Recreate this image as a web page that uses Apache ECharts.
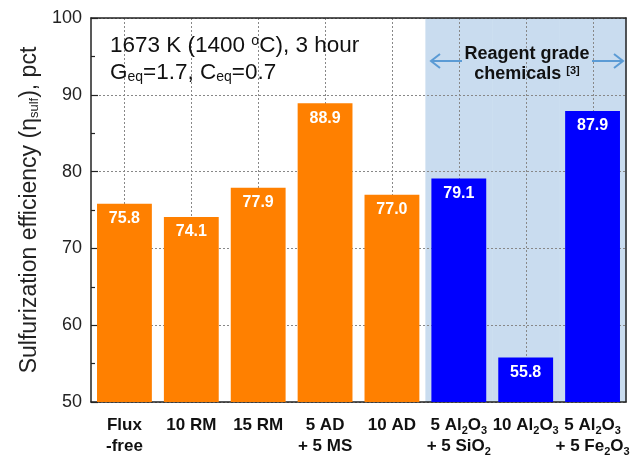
<!DOCTYPE html>
<html>
<head>
<meta charset="utf-8">
<script src="https://cdn.jsdelivr.net/npm/echarts@6/dist/echarts.min.js"></script>
<style>
html,body{margin:0;padding:0;background:#fff;}
#chart{width:639px;height:457px;}
</style>
</head>
<body>
<div id="chart"></div>
<script>
var categories = ['Flux\n-free', '10 RM', '15 RM', '5 AD\n+ 5 MS', '10 AD', '5 Al2O3\n+ 5 SiO2', '10 Al2O3', '5 Al2O3\n+ 5 Fe2O3'];
var efficiency = [75.8, 74.1, 77.9, 88.9, 77.0, 79.1, 55.8, 87.9];
var groups = ['flux', 'flux', 'flux', 'flux', 'flux', 'reagent', 'reagent', 'reagent'];
var yTicks = [50, 60, 70, 80, 90, 100];

var colorMap = { flux: '#ff8000', reagent: '#0000ff' };
var FONT = 'Liberation Sans, Arial, sans-serif';
var Y_MIN = yTicks[0], Y_MAX = yTicks[yTicks.length - 1];

var chart = echarts.init(document.getElementById('chart'), null, { renderer: 'canvas' });

var barData = efficiency.map(function (v, i) {
  return { value: v, itemStyle: { color: colorMap[groups[i]] } };
});
var reagentIdx = [];
groups.forEach(function (g, i) { if (g === 'reagent') reagentIdx.push([i, Y_MAX]); });
var allIdx = categories.map(function (c, i) { return [i, Y_MAX]; });

var option = {
  animation: false,
  backgroundColor: '#ffffff',
  grid: { left: 91, right: 13, top: 18, bottom: 46, containLabel: false },
  xAxis: [
    {
      type: 'category',
      data: categories,
      position: 'bottom',
      z: 1,
      axisLine: { show: true, lineStyle: { color: '#222', width: 1.5 } },
      axisTick: { show: false },
      splitLine: { show: false },
      axisLabel: {
        interval: 0,
        margin: 13,
        color: '#111',
        fontFamily: FONT,
        fontSize: 17,
        fontWeight: 'bold',
        lineHeight: 21,
        formatter: function (v) {
          return v.split('\n').map(function (line) {
            return '{m|' + line.replace(/([A-Za-z])(\d)/g, '$1}{s|$2}{m|') + '}';
          }).join('\n');
        },
        rich: {
          m: { fontFamily: FONT, fontSize: 17, fontWeight: 'bold', color: '#111', lineHeight: 21 },
          s: { fontFamily: FONT, fontSize: 11, fontWeight: 'bold', color: '#111', lineHeight: 11, verticalAlign: 'bottom' }
        }
      }
    },
    {
      type: 'category',
      data: categories,
      position: 'top',
      z: 1,
      axisLine: { show: true, onZero: false, lineStyle: { color: '#222', width: 1.5 } },
      axisTick: { show: false },
      axisLabel: { show: false },
      splitLine: { show: false }
    }
  ],
  yAxis: [
    {
      type: 'value',
      min: Y_MIN,
      max: Y_MAX,
      interval: 10,
      position: 'left',
      z: 1,
      name: 'Sulfurization efficiency (η{s|sulf}), pct',
      nameLocation: 'middle',
      nameGap: 50,
      nameRotate: 90,
      nameTextStyle: {
        fontFamily: FONT,
        fontSize: 23,
        color: '#222',
        rich: {
          s: { fontFamily: FONT, fontSize: 13, color: '#222', verticalAlign: 'bottom', lineHeight: 13 }
        }
      },
      axisLine: { show: true, onZero: false, lineStyle: { color: '#222', width: 1.5 } },
      axisTick: { show: true, inside: true, length: 7, lineStyle: { color: '#222', width: 1.2 } },
      minorTick: { show: true, splitNumber: 2, length: 4, lineStyle: { color: '#222', width: 1.2 } },
      axisLabel: { fontFamily: FONT, fontSize: 18, color: '#222', margin: 9 },
      splitLine: { show: true, lineStyle: { color: '#888888', type: [2, 2], width: 1 } }
    },
    {
      type: 'value',
      min: Y_MIN,
      max: Y_MAX,
      position: 'right',
      z: 1,
      axisLine: { show: true, onZero: false, lineStyle: { color: '#222', width: 1.5 } },
      axisTick: { show: false },
      axisLabel: { show: false },
      splitLine: { show: false }
    }
  ],
  series: [
    {
      name: 'shade',
      type: 'custom',
      xAxisIndex: 0,
      yAxisIndex: 0,
      z: 0,
      silent: true,
      data: reagentIdx,
      encode: { x: 0, y: 1 },
      renderItem: function (params, api) {
        var idx = api.value(0);
        var top = api.coord([idx, Y_MAX]);
        var bottom = api.coord([idx, Y_MIN]);
        var w = api.size([1, 0])[0];
        return {
          type: 'rect',
          shape: { x: top[0] - w / 2, y: top[1], width: w + 0.5, height: bottom[1] - top[1] },
          style: { fill: '#c9dcef' }
        };
      }
    },
    {
      name: 'center lines',
      type: 'custom',
      xAxisIndex: 0,
      yAxisIndex: 0,
      z: 1,
      silent: true,
      data: allIdx,
      encode: { x: 0, y: 1 },
      renderItem: function (params, api) {
        var idx = api.value(0);
        var top = api.coord([idx, Y_MAX]);
        var bottom = api.coord([idx, Y_MIN]);
        var x = Math.round(top[0]) + 0.5;
        return {
          type: 'line',
          shape: { x1: x, y1: top[1], x2: x, y2: bottom[1] },
          style: { stroke: '#888888', lineWidth: 1, lineDash: [2, 2] }
        };
      }
    },
    {
      name: 'efficiency',
      type: 'bar',
      xAxisIndex: 0,
      yAxisIndex: 0,
      z: 2,
      barCategoryGap: '18%',
      data: barData,
      label: {
        show: true,
        position: 'insideTop',
        distance: 7,
        color: '#ffffff',
        fontFamily: FONT,
        fontSize: 16,
        fontWeight: 'bold',
        formatter: function (p) { return p.value.toFixed(1); }
      }
    }
  ],
  graphic: [
    {
      type: 'text', left: 110, top: 34, z: 10,
      style: {
        text: '1673 K (1400 {u|o}C), 3 hour',
        fontFamily: FONT, fontSize: 22.5, fill: '#111',
        rich: { u: { fontFamily: FONT, fontSize: 14, fill: '#111', verticalAlign: 'top', lineHeight: 14 } }
      }
    },
    {
      type: 'text', left: 110, top: 61, z: 10,
      style: {
        text: 'G{s|eq}=1.7, C{s|eq}=0.7',
        fontFamily: FONT, fontSize: 22.5, fill: '#111',
        rich: { s: { fontFamily: FONT, fontSize: 14, fill: '#111', verticalAlign: 'bottom', lineHeight: 14 } }
      }
    },
    {
      type: 'text', x: 527, y: 54, z: 10,
      style: {
        text: 'Reagent grade',
        align: 'center', verticalAlign: 'middle',
        fontFamily: FONT, fontSize: 18, fontWeight: 'bold', fill: '#111'
      }
    },
    {
      type: 'text', x: 527, y: 74, z: 10,
      style: {
        text: 'chemicals {u|[3]}',
        align: 'center', verticalAlign: 'middle',
        fontFamily: FONT, fontSize: 18, fontWeight: 'bold', fill: '#111',
        rich: { u: { fontFamily: FONT, fontSize: 11, fontWeight: 'bold', fill: '#111', verticalAlign: 'top', lineHeight: 11 } }
      }
    },
    {
      type: 'polyline', z: 10,
      shape: { points: [[462, 61], [431, 61]] },
      style: { stroke: '#5b9bd5', lineWidth: 2, fill: null }
    },
    {
      type: 'polyline', z: 10,
      shape: { points: [[440, 54], [431, 61], [440, 68]] },
      style: { stroke: '#5b9bd5', lineWidth: 2, fill: null }
    },
    {
      type: 'polyline', z: 10,
      shape: { points: [[592, 61], [623, 61]] },
      style: { stroke: '#5b9bd5', lineWidth: 2, fill: null }
    },
    {
      type: 'polyline', z: 10,
      shape: { points: [[614, 54], [623, 61], [614, 68]] },
      style: { stroke: '#5b9bd5', lineWidth: 2, fill: null }
    }
  ]
};

chart.setOption(option);
</script>
</body>
</html>
